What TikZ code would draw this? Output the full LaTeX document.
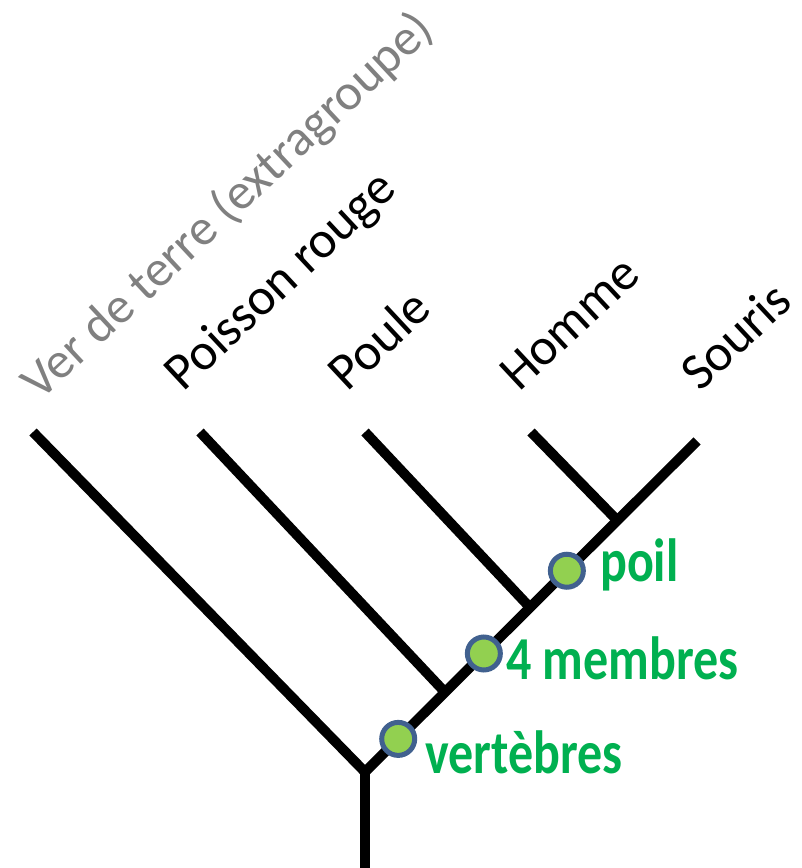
\documentclass[tikz,border=0pt]{standalone}
\usepackage{fontspec}
\setmainfont{Carlito}
\newfontfamily\traitfont[FakeStretch=0.82]{Carlito}
\usetikzlibrary{calc}

\definecolor{traitgreen}{HTML}{00B050}
\definecolor{dotgreen}{HTML}{92D050}
\definecolor{dotblue}{HTML}{41618F}

\begin{document}
\begin{tikzpicture}[x=1pt, y=1pt,
    branch/.style={line width=10pt},
    taxon/.style={anchor=base west, inner sep=0pt, rotate=43, font=\fontsize{52}{56}\selectfont},
    trait/.style={anchor=base west, inner sep=0pt, text=traitgreen, font=\traitfont\bfseries\fontsize{61}{64}\selectfont},
    dot/.style={circle, fill=dotgreen, draw=dotblue, line width=5pt, minimum size=33pt, inner sep=0pt}]
    \useasboundingbox (0,0) rectangle (802,868);

    % Root and outer tips
    \coordinate (base) at (365,0);
    \coordinate (root) at (365,96);
    \coordinate (ver) at (33,436);
    \coordinate (souris) at (697,427);

    % Trunk
    \draw[branch] (base) -- (root);
    \draw[branch] (root) -- (ver);
    \draw[branch] (root) -- (souris);

    % Side branches (tip -> junction on the trunk)
    \foreach \name/\x/\t in {poisson/200/0.241, poule/365/0.497, homme/531/0.76} {
        \coordinate (\name) at (\x,436);
        \coordinate (\name-j) at ($(root)!\t!(souris)$);
        \draw[branch] (\name) -- (\name-j);
    }

    % Taxa
    \node[taxon, text=black!50, font=\fontsize{51}{56}\selectfont] (ver-label) at (40,466) {Ver de terre (extragroupe)};
    \foreach \name/\x/\txt in {poisson/183/Poisson rouge, poule/347/Poule, homme/519/Homme, souris/700/Souris} {
        \node[taxon] (\name-label) at (\x,475) {\txt};
    }

    % Characters on the trunk
    \foreach \name/\t in {vertebres/0.10, membres/0.358, poil/0.608} {
        \node[dot] (\name-dot) at ($(root)!\t!(souris)$) {};
    }
    \node[trait] (vertebres) at (425,94) {vertèbres};
    \node[trait] (membres) at (506,188) {4 membres};
    \node[trait] (poil) at (600,286) {poil};
\end{tikzpicture}
\end{document}
